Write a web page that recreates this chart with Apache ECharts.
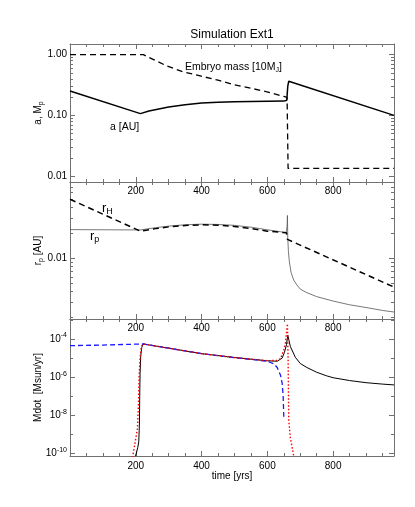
<!DOCTYPE html>
<html><head><meta charset="utf-8">
<script src="https://cdn.jsdelivr.net/npm/echarts@6/dist/echarts.min.js"></script>
<style>html,body{margin:0;padding:0;background:#fff}#c{width:415px;height:507px}</style>
</head><body><div id="c"></div>
<script>
// ---------- data ----------
const title = 'Simulation Ext1';
const xMajorTicks = [200, 400, 600, 800];
const xMinorTicks = [50,100,150,250,300,350,450,500,550,650,700,750,850,900,950];

// Panel 1: embryo mass [10 MJ] and semi-major axis a [AU]
const tMass = [0, 223, 260, 295, 340, 396, 450, 498, 550, 599, 650, 660, 663, 985];
const mass  = [1.0, 1.0, 0.80, 0.65, 0.53, 0.447, 0.38, 0.32, 0.28, 0.245, 0.205, 0.198, 0.0134, 0.0134];
const tA = [0, 214, 240, 270, 300, 350, 400, 450, 500, 550, 600, 650, 656, 659, 662, 665, 985];
const aAU = [0.253, 0.107, 0.118, 0.128, 0.137, 0.150, 0.160, 0.165, 0.168, 0.170, 0.171, 0.172, 0.169, 0.178, 0.30, 0.365, 0.100];
const p1Major = [0.01, 0.1, 1];
const p1Minor = [0.02,0.03,0.04,0.05,0.06,0.07,0.08,0.09,0.2,0.3,0.4,0.5,0.6,0.7,0.8,0.9];

// Panel 2: Hill radius rH and planet radius rp [AU]
const tRH = [0, 214, 260, 300, 350, 400, 450, 500, 550, 600, 640, 658, 661, 985];
const rH  = [0.0499, 0.0209, 0.0224, 0.0235, 0.0244, 0.0249, 0.0246, 0.0238, 0.0225, 0.0209, 0.0203, 0.0200, 0.0167, 0.00454];
const tRp = [0, 214, 260, 300, 350, 400, 450, 500, 550, 600, 640, 657, 660, 661, 662, 664, 667, 672, 680, 690, 700, 720, 750, 800, 850, 900, 950, 985];
const rp  = [0.0218, 0.0216, 0.0230, 0.0240, 0.0249, 0.0253, 0.0251, 0.0245, 0.0233, 0.0217, 0.0206, 0.0201, 0.024, 0.0321, 0.0175, 0.0120, 0.0090, 0.0068, 0.0055, 0.0048, 0.0043, 0.0039, 0.0035, 0.0031, 0.0028, 0.0026, 0.0024, 0.0023];
const p2Major = [0.01];
const p2Minor = [0.002,0.003,0.004,0.005,0.006,0.007,0.008,0.009,0.02,0.03,0.04,0.05,0.06,0.07];

// Panel 3: Mdot [Msun/yr]
const tBlue = [0, 100, 222, 300, 400, 500, 600, 620, 630, 640, 645, 648, 650];
const mdBlue = [4.5e-5, 4.8e-5, 5.5e-5, 3.3e-5, 1.7e-5, 1.05e-5, 6.8e-6, 5.0e-6, 3.2e-6, 1.26e-6, 4.7e-7, 1.0e-7, 8.3e-9];
const tBlack = [199, 206, 209, 211, 212, 213, 215, 218, 222, 300, 400, 500, 600, 630, 645, 652, 658, 662, 666, 670, 685, 700, 720, 750, 780, 800, 850, 900, 950, 985];
const mdBlack = [7e-11, 2e-10, 4e-10, 3e-9, 1e-7, 1.6e-6, 1.26e-5, 3.5e-5, 5.5e-5, 3.3e-5, 1.7e-5, 1.07e-5, 7.2e-6, 6.8e-6, 1.0e-5, 2.0e-5, 5.0e-5, 1.6e-4, 8e-5, 4.0e-5, 1.1e-5, 5.2e-6, 3.2e-6, 1.8e-6, 1.17e-6, 9.3e-7, 6.6e-7, 5.1e-7, 4.3e-7, 3.9e-7];
const tRed = [190, 200, 205, 208, 210, 213, 217, 222, 300, 400, 500, 600, 630, 640, 650, 655, 658, 661, 662, 663, 665, 670, 675, 681];
const mdRed = [6e-11, 6e-10, 2e-9, 3e-8, 1e-6, 1e-5, 4e-5, 5.5e-5, 3.3e-5, 1.7e-5, 1.07e-5, 7.2e-6, 7.6e-6, 9.3e-6, 2.6e-5, 6.3e-5, 2.0e-4, 6.3e-4, 7.9e-4, 1e-5, 5.6e-9, 6.3e-10, 2.2e-10, 6e-11];
const p3Major = [1e-10, 1e-8, 1e-6, 1e-4];
const p3Minor = [1e-9, 1e-7, 1e-5, 1e-3];

// ---------- chart ----------
const font = 'Liberation Sans, Arial, Helvetica, sans-serif';
const frame = '#707070';
const xMax = 985;
const grids = [
  {left: 70, right: 21, top: 44, height: 138},
  {left: 70, right: 21, top: 182, height: 137},
  {left: 70, right: 21, top: 319, height: 137}
];
const pairs = (t, v) => t.map((x, i) => [x, v[i]]);

function xAxesFor(gi, labelMargin, name) {
  const base = {
    type: 'value', gridIndex: gi, min: 0, max: xMax,
    splitLine: {show: false}
  };
  const line = {show: true, onZero: false, lineStyle: {color: frame, width: 1}};
  const noLine = {show: false, onZero: false};
  const out = [];
  ['bottom', 'top'].forEach(pos => {
    out.push(Object.assign({}, base, {
      position: pos, axisLine: line,
      axisTick: {show: true, inside: true, length: 5, customValues: xMajorTicks, lineStyle: {color: frame}},
      axisLabel: pos === 'bottom' ? {show: true, customValues: xMajorTicks, margin: labelMargin, fontSize: 10, color: '#000', fontFamily: font} : {show: false},
      name: pos === 'bottom' && name ? name : '',
      nameLocation: 'middle', nameGap: 15, nameMoveOverlap: false,
      nameTextStyle: {fontSize: 10, color: '#000', fontFamily: font}
    }));
    out.push(Object.assign({}, base, {
      position: pos, axisLine: noLine,
      axisTick: {show: true, inside: true, length: 3, customValues: xMinorTicks, lineStyle: {color: frame}},
      axisLabel: {show: false}
    }));
  });
  return out;
}

function yAxesFor(gi, min, max, major, minor, fmt, name, nameGap, majorLen, minorLen) {
  const base = {type: 'log', logBase: 10, gridIndex: gi, min: min, max: max, splitLine: {show: false}};
  const out = [];
  ['left', 'right'].forEach(pos => {
    out.push(Object.assign({}, base, {
      position: pos,
      axisLine: {show: true, onZero: false, lineStyle: {color: frame, width: 1}},
      axisTick: {show: true, inside: true, length: majorLen, customValues: major, lineStyle: {color: frame}},
      axisLabel: pos === 'left' ? {
        show: true, customValues: major, formatter: fmt, margin: 3, fontSize: 10, color: '#000', fontFamily: font,
        rich: {s: {fontSize: 7, color: '#000', fontFamily: font, padding: [0, 0, 7, 0]}}
      } : {show: false},
      name: pos === 'left' ? name : '',
      nameLocation: 'middle', nameRotate: 90, nameGap: nameGap, nameMoveOverlap: false,
      nameTextStyle: {fontSize: 10, color: '#000', fontFamily: font,
        rich: {sub: {fontSize: 7, color: '#000', fontFamily: font, padding: [6, 0, 0, 0]}}}
    }));
    out.push(Object.assign({}, base, {
      position: pos,
      axisLine: {show: false, onZero: false},
      axisTick: {show: true, inside: true, length: minorLen, customValues: minor, lineStyle: {color: frame}},
      axisLabel: {show: false}
    }));
  });
  return out;
}

const xAxis = [].concat(
  xAxesFor(0, 4, ''),
  xAxesFor(1, 4, ''),
  xAxesFor(2, 5, 'time [yrs]')
);
const yAxis = [].concat(
  yAxesFor(0, 0.008, 1.5, p1Major, p1Minor, v => Number(v).toFixed(2), 'a, M{sub|p}', 25, 5, 3),
  yAxesFor(1, 0.0019, 0.08, p2Major, p2Minor, v => Number(v).toFixed(2), 'r{sub|p} [AU]', 25, 5, 3),
  yAxesFor(2, Math.pow(10, -10.14), Math.pow(10, -2.95), p3Major, p3Minor,
    v => '10{s|' + Math.round(Math.log10(v)) + '}', 'Mdot  [Msun/yr]', 27, 5, 3)
);
// each panel: x axes 4*gi (bottom major), y axes 4*gi (left major)
const ln = (gi, data, color, width, type, z) => ({
  type: 'line', xAxisIndex: 4 * gi, yAxisIndex: 4 * gi, data: data,
  showSymbol: false, symbol: 'none', silent: true, animation: false, z: z || 2,
  lineStyle: {color: color, width: width, type: type}
});

const series = [
  ln(0, pairs(tMass, mass), '#000', 1.3, [6, 4]),
  ln(0, pairs(tA, aAU), '#000', 1.5, 'solid'),
  ln(1, pairs(tRp, rp), '#555', 0.8, 'solid'),
  ln(1, pairs(tRH, rH), '#000', 1.5, [6, 4], 3),
  ln(2, pairs(tBlack, mdBlack), '#000', 1, 'solid'),
  ln(2, pairs(tBlue, mdBlue), '#1a1aff', 1.3, [5, 3], 3),
  ln(2, pairs(tRed, mdRed), '#ff0000', 1.4, [1.5, 2], 4)
];

const txt = (x, y, text, size, align, rich) => ({
  type: 'text', x: x, y: y, silent: true,
  style: {text: text, fontSize: size, fontFamily: font, fill: '#000', align: align || 'left', verticalAlign: 'middle', rich: rich || {}}
});

const chart = echarts.init(document.getElementById('c'), null, {renderer: 'canvas'});
chart.setOption({
  animation: false,
  backgroundColor: '#fff',
  grid: grids,
  xAxis: xAxis,
  yAxis: yAxis,
  series: series,
  graphic: [
    txt(232, 35, title, 12, 'center'),
    txt(185, 67, 'Embryo mass [10M{sub|J}]', 10.5, 'left', {sub: {fontSize: 7, fontFamily: font, fill: '#000', padding: [6, 0, 0, 0]}}),
    txt(110, 127, 'a [AU]', 10.5, 'left'),
    txt(102, 208, 'r{sub|H}', 13, 'left', {sub: {fontSize: 9, fontFamily: font, fill: '#000', padding: [8, 0, 0, 0]}}),
    txt(90, 236, 'r{sub|p}', 13, 'left', {sub: {fontSize: 9, fontFamily: font, fill: '#000', padding: [8, 0, 0, 0]}})
  ]
});
</script>
</body></html>
